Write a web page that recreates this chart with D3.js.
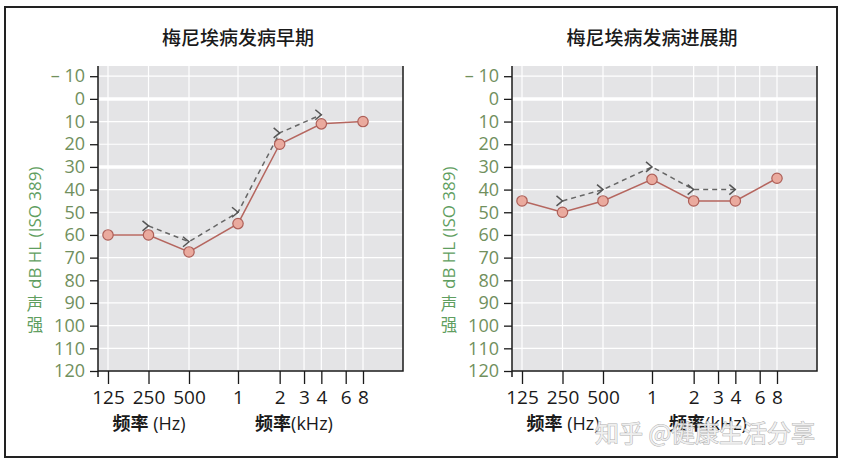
<!DOCTYPE html>
<meta charset="utf-8">
<head>
<style>
body { margin: 0; background: #fff; }
svg { display: block; font-family: "Open Sans", "Noto Sans", sans-serif; }
.cjk { font-family: "Noto Sans CJK SC", sans-serif; }
.domain { display: none; }
</style>
</head>
<body>
<script src="https://cdn.jsdelivr.net/npm/d3@7"></script>
<script>
// frequencies on the x axis and their labels
var freqs = [125, 250, 500, 1000, 2000, 3000, 4000, 6000, 8000];
var freqLabels = ["125", "250", "500", "1", "2", "3", "4", "6", "8"];
var yTicks = [-10, 0, 10, 20, 30, 40, 50, 60, 70, 80, 90, 100, 110, 120];
var thickLines = [0, 30];

// air conduction (red circles)
var airFreqs = [125, 250, 500, 1000, 2000, 4000, 8000];
var earlyAir = [60, 60, 67.5, 55, 20, 11, 10];
var lateAir = [45, 50, 45, 35.5, 45, 45, 35];

// bone conduction (grey dashed with > marks)
var boneFreqs = [250, 500, 1000, 2000, 4000];
var earlyBone = [56, 63, 50, 15, 7];
var lateBone = [45, 40, 30, 40, 40];

var titles = ["梅尼埃病发病早期", "梅尼埃病发病进展期"];

var W = 850, H = 467;
var svg = d3.select("body").append("svg")
    .attr("width", W)
    .attr("height", H);

// outer frame
svg.append("rect")
    .attr("x", 5).attr("y", 7)
    .attr("width", 832).attr("height", 450)
    .attr("fill", "none")
    .attr("stroke", "#222")
    .attr("stroke-width", 2);

var plotTop = 66, plotBottom = 371, plotW = 305;

var y = d3.scaleLinear()
    .domain([-14.5, 120])
    .range([plotTop, plotBottom]);

function drawPanel(left, title, air, bone) {
    var g = svg.append("g").attr("transform", "translate(" + left + ",0)");

    // the Hz and kHz parts are spread a little differently
    var x = d3.scaleLog()
        .domain([125, 500, 1000, 8000])
        .range([10, 91, 140, 265]);

    g.append("text")
        .attr("class", "cjk")
        .attr("x", 140)
        .attr("y", 36)
        .attr("text-anchor", "middle")
        .attr("dominant-baseline", "central")
        .attr("font-size", 19)
        .attr("font-weight", 500)
        .attr("fill", "#1a1a1a")
        .text(title);

    g.append("rect")
        .attr("x", 0).attr("y", plotTop)
        .attr("width", plotW).attr("height", plotBottom - plotTop)
        .attr("fill", "#e4e4e6");

    // grid
    g.selectAll(".hgrid")
        .data(yTicks)
        .enter().append("line")
        .attr("class", "hgrid")
        .attr("x1", 0).attr("x2", plotW)
        .attr("y1", d => y(d)).attr("y2", d => y(d))
        .attr("stroke", "#fff")
        .attr("stroke-width", d => thickLines.indexOf(d) >= 0 ? 3.5 : 1.2);

    g.selectAll(".vgrid")
        .data(freqs)
        .enter().append("line")
        .attr("class", "vgrid")
        .attr("x1", d => x(d)).attr("x2", d => x(d))
        .attr("y1", plotTop).attr("y2", plotBottom)
        .attr("stroke", "#fff")
        .attr("stroke-width", 1.2);

    // frame lines: left, bottom, right
    g.append("path")
        .attr("d", "M0," + plotTop + "V" + (plotBottom + 6) + "M0," + plotBottom + "H" + plotW + "V" + plotTop)
        .attr("fill", "none")
        .attr("stroke", "#1a1a1a")
        .attr("stroke-width", 1.5);

    var yAxis = g.append("g")
        .call(d3.axisLeft(y)
            .tickValues(yTicks)
            .tickSize(8)
            .tickPadding(5)
            .tickFormat(d => d < 0 ? "– " + Math.abs(d) : d));
    yAxis.selectAll("line").attr("stroke", "#1a1a1a").attr("stroke-width", 1.3);
    yAxis.selectAll("text")
        .attr("font-size", 18)
        .attr("fill", "#71905d")
        .attr("font-family", "'Open Sans', sans-serif");

    var xAxis = g.append("g")
        .attr("transform", "translate(0," + plotBottom + ")")
        .call(d3.axisBottom(x)
            .tickValues(freqs)
            .tickSize(13)
            .tickPadding(7)
            .tickFormat((d, i) => freqLabels[i]));
    xAxis.selectAll("line").attr("stroke", "#1a1a1a").attr("stroke-width", 1.3);
    xAxis.selectAll("text")
        .attr("font-size", 19)
        .attr("fill", "#1a1a1a")
        .attr("font-family", "'Open Sans', sans-serif");

    // axis titles under the ticks
    var hz = g.append("text")
        .attr("x", 51).attr("y", 430)
        .attr("text-anchor", "middle")
        .attr("font-size", 18)
        .attr("fill", "#1a1a1a");
    hz.append("tspan").attr("class", "cjk").attr("font-weight", "bold").text("频率");
    hz.append("tspan").text(" (Hz)");

    var khz = g.append("text")
        .attr("x", 196).attr("y", 430)
        .attr("text-anchor", "middle")
        .attr("font-size", 18)
        .attr("fill", "#1a1a1a");
    khz.append("tspan").attr("class", "cjk").attr("font-weight", "bold").text("频率");
    khz.append("tspan").text("(kHz)");

    // y title
    g.append("text")
        .attr("transform", "translate(-57,289) rotate(-90)")
        .attr("font-size", 17)
        .attr("fill", "#5f9e5f")
        .text("dB HL (ISO 389)");
    g.selectAll(".ych")
        .data(["声", "强"])
        .enter().append("text")
        .attr("class", "cjk")
        .attr("x", -63)
        .attr("y", (d, i) => 303 + i * 21)
        .attr("text-anchor", "middle")
        .attr("dominant-baseline", "central")
        .attr("font-size", 16.5)
        .attr("fill", "#5f9e5f")
        .text(d => d);

    // bone conduction
    var bonePts = boneFreqs.map((f, i) => ({ f: f, v: bone[i] }));
    g.append("path")
        .datum(bonePts)
        .attr("d", d3.line().x(d => x(d.f)).y(d => y(d.v)))
        .attr("fill", "none")
        .attr("stroke", "#666")
        .attr("stroke-width", 1.5)
        .attr("stroke-dasharray", "5,4");
    g.selectAll(".bone")
        .data(bonePts)
        .enter().append("path")
        .attr("class", "bone")
        .attr("transform", d => "translate(" + x(d.f) + "," + y(d.v) + ")")
        .attr("d", "M-6,-5L0,0L-6,5")
        .attr("fill", "none")
        .attr("stroke", "#555")
        .attr("stroke-width", 1.5);

    // air conduction
    var airPts = airFreqs.map((f, i) => ({ f: f, v: air[i] }));
    g.append("path")
        .datum(airPts)
        .attr("d", d3.line().x(d => x(d.f)).y(d => y(d.v)))
        .attr("fill", "none")
        .attr("stroke", "#b5665f")
        .attr("stroke-width", 1.5);
    g.selectAll(".air")
        .data(airPts)
        .enter().append("circle")
        .attr("class", "air")
        .attr("cx", d => x(d.f))
        .attr("cy", d => y(d.v))
        .attr("r", 5.2)
        .attr("fill", "#eaaa9e")
        .attr("stroke", "#ad5f58")
        .attr("stroke-width", 1.2);
}

drawPanel(98, titles[0], earlyAir, earlyBone);
drawPanel(512, titles[1], lateAir, lateBone);

// watermark
svg.append("text")
    .attr("class", "cjk")
    .attr("x", 595).attr("y", 442)
    .attr("font-size", 24)
    .attr("fill", "#eeeeee")
    .attr("stroke", "#a8a8a8")
    .attr("stroke-width", 1)
    .attr("paint-order", "stroke")
    .attr("opacity", 0.9)
    .text("知乎 @健康生活分享");
</script>
</body>
